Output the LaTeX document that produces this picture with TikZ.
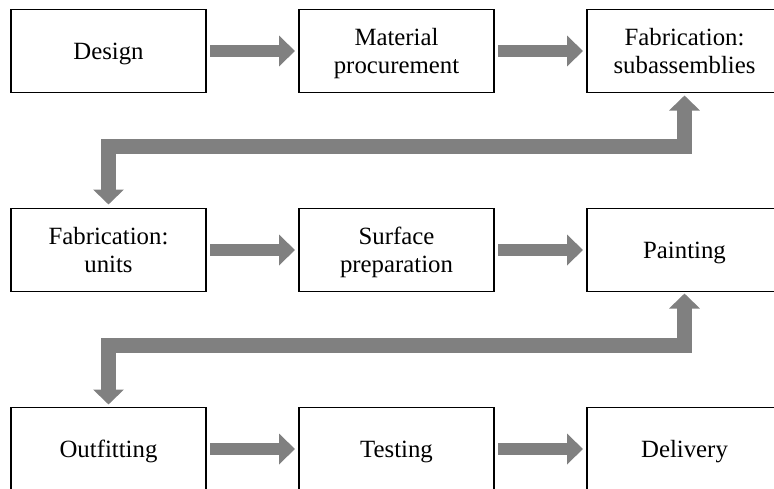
\documentclass[tikz,border=0pt]{standalone}
\usepackage{fontspec}
\setmainfont{Liberation Serif}
\usepackage{tikz}
\usetikzlibrary{positioning, calc, arrows.meta}

\definecolor{arrowgray}{RGB}{128,128,128}

\tikzset{
	stagebox/.style = {draw, line width=1.2pt, outer sep=0pt, minimum width=195pt, minimum height=83pt,
		align=center, text depth=0pt, font=\fontsize{24.8pt}{28.5pt}\selectfont},
	flowarrow/.style = {arrowgray, line width=12pt, -{Triangle[width=30pt,length=16pt]}},
	elbowarrow/.style = {arrowgray, line width=15pt, line join=miter,
		{Triangle[width=30pt,length=15pt]}-{Triangle[width=30pt,length=15pt]}}
}

\begin{document}
\begin{tikzpicture}[x=1pt, y=-1pt, node distance=116pt and 93pt]
						\clip (0,0) rectangle (774,488);
						% first row
						\node[stagebox] (design) at (108.5,51) {Design};
						\node[stagebox, right=of design] (procurement) {Material\\procurement};
						\node[stagebox, right=of procurement] (subassy) {Fabrication:\\subassemblies};
						% second row
						\node[stagebox, below=of design] (units) {Fabrication:\\units};
						\node[stagebox, right=of units] (surface) {Surface\\preparation};
						\node[stagebox, right=of surface] (painting) {Painting};
						% third row
						\node[stagebox, below=of units] (outfitting) {Outfitting};
						\node[stagebox, right=of outfitting] (testing) {Testing};
						\node[stagebox, right=of testing] (delivery) {Delivery};

						\draw[flowarrow] ([xshift=4pt]design.east) -- ([xshift=-4pt]procurement.west);
						\draw[flowarrow] ([xshift=4pt]procurement.east) -- ([xshift=-4pt]subassy.west);
						\draw[flowarrow] ([xshift=4pt]units.east) -- ([xshift=-4pt]surface.west);
						\draw[flowarrow] ([xshift=4pt]surface.east) -- ([xshift=-4pt]painting.west);
						\draw[flowarrow] ([xshift=4pt]outfitting.east) -- ([xshift=-4pt]testing.west);
						\draw[flowarrow] ([xshift=4pt]testing.east) -- ([xshift=-4pt]delivery.west);

						\draw[elbowarrow] ([yshift=4pt]units.north) |- ($(subassy.south)+(0,54)$) -- ([yshift=-3pt]subassy.south);
						\draw[elbowarrow] ([yshift=3pt]outfitting.north) |- ($(painting.south)+(0,53.5)$) -- ([yshift=-2pt]painting.south);
				\end{tikzpicture}
\end{document}
